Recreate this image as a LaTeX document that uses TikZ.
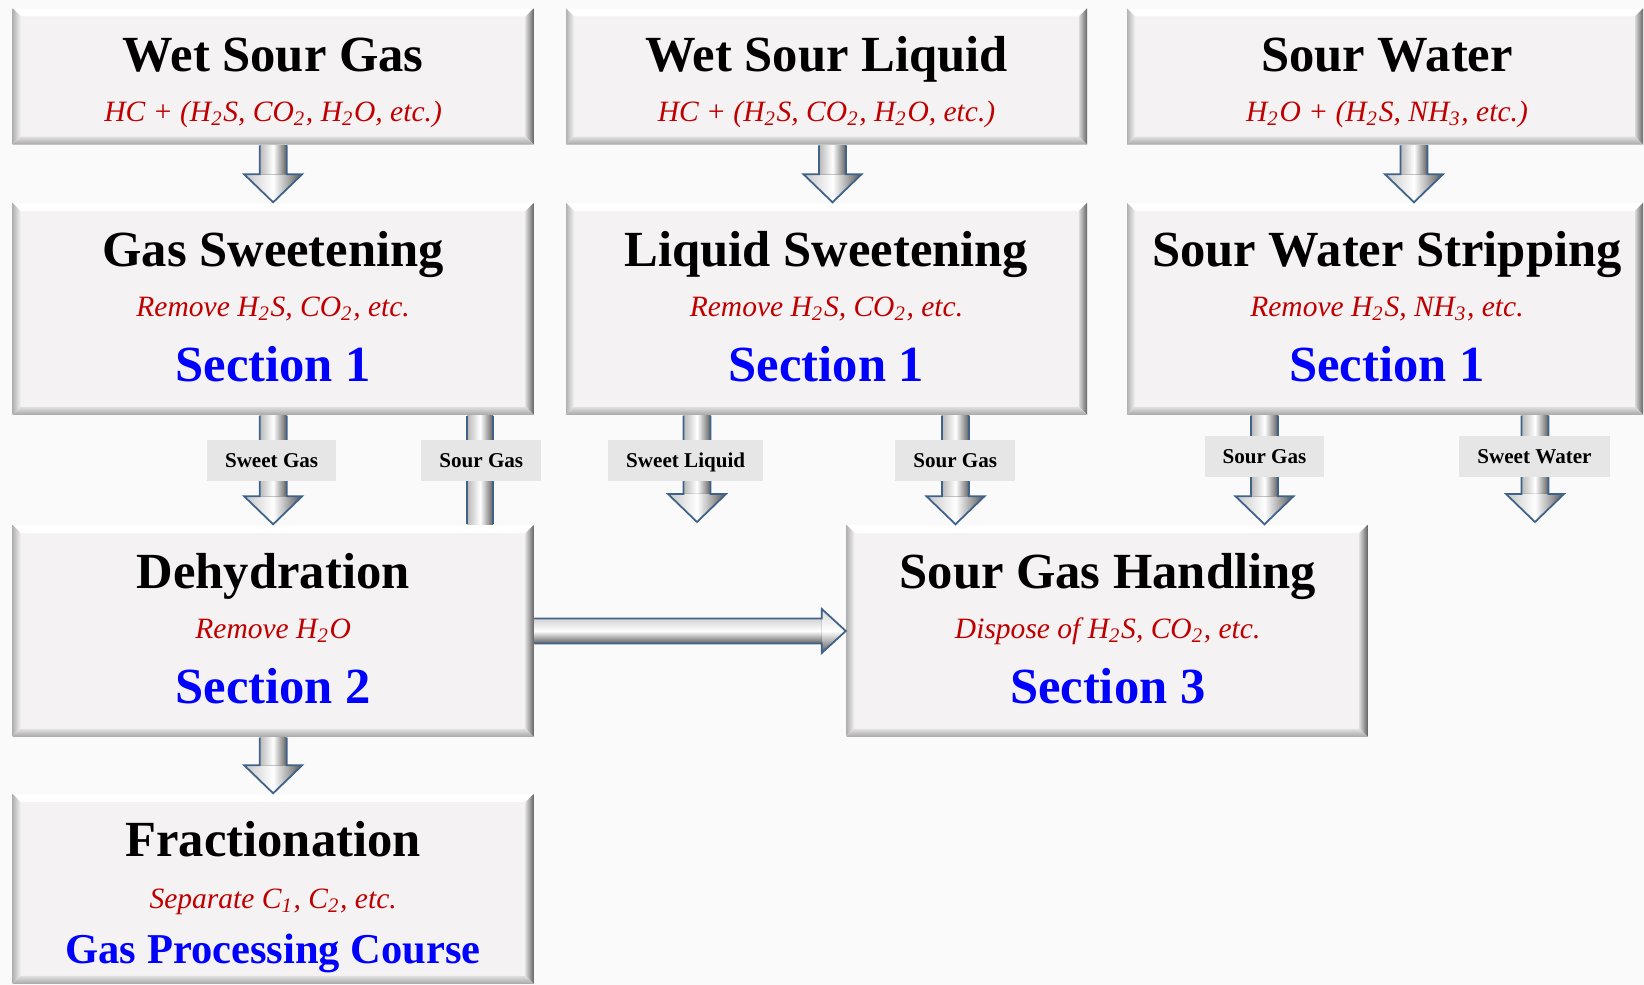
\documentclass[tikz,border=0pt]{standalone}
\usepackage{fontspec}
\setmainfont{Liberation Serif}
\usepackage{tikz}
\usetikzlibrary{calc}
\usetikzlibrary{positioning}

\definecolor{boxgray}{RGB}{244,242,243}
\definecolor{bggray}{RGB}{250,250,250}
\definecolor{labelgray}{RGB}{230,230,230}
\definecolor{subred}{RGB}{192,0,0}
\definecolor{secblue}{RGB}{0,0,255}
\definecolor{arrowblue}{RGB}{62,98,138}

\newcommand{\bv}{0.08}
\newcommand{\hs}{0.135}
\newcommand{\hh}{0.29}
\newcommand{\hl}{0.28}

\tikzset{
  stagebox/.style={minimum width=5.21cm, inner sep=0pt, fill=boxgray, path picture={
      \fill[top color=white, bottom color=boxgray] (path picture bounding box.north west) -- (path picture bounding box.north east) -- ++(-\bv,-\bv) -- ($(path picture bounding box.north west)+(\bv,-\bv)$) -- cycle;
      \fill[left color=gray!60, right color=gray!10] (path picture bounding box.north west) -- ++(\bv,-\bv) -- ($(path picture bounding box.south west)+(\bv,\bv)$) -- (path picture bounding box.south west) -- cycle;
      \fill[left color=gray!30, right color=gray!80!black] (path picture bounding box.north east) -- ++(-\bv,-\bv) -- ($(path picture bounding box.south east)+(-\bv,\bv)$) -- (path picture bounding box.south east) -- cycle;
      \fill[top color=gray!25, bottom color=gray!70] (path picture bounding box.south west) -- ++(\bv,\bv) -- ($(path picture bounding box.south east)+(-\bv,\bv)$) -- (path picture bounding box.south east) -- cycle;
  }},
  titletext/.style={font=\bfseries\fontsize{14.4}{17}\selectfont, inner sep=0pt, text height=0.335cm, text depth=0pt},
  subtext/.style={font=\itshape\fontsize{8.4}{10}\selectfont, text=subred, inner sep=0pt, text height=0.196cm, text depth=0pt},
  sectext/.style={titletext, text=secblue},
  coursetext/.style={font=\bfseries\fontsize{12.1}{14}\selectfont, text=secblue, inner sep=0pt, text height=0.281cm, text depth=0pt},
  flowlabel/.style={fill=labelgray, font=\bfseries\fontsize{6}{7}\selectfont, inner xsep=0.18cm, inner ysep=0pt, minimum height=0.41cm, text height=0.14cm, text depth=0pt},
  shaftshade/.style={left color=gray!55, right color=gray!75!black, middle color=white},
  headshade/.style={left color=gray!45, right color=gray!65!black, middle color=white},
  hshaftshade/.style={top color=gray!35, bottom color=gray!75!black, middle color=white},
  hheadshade/.style={top color=gray!30, bottom color=gray!65!black, middle color=white},
  arrowline/.style={draw=arrowblue, line width=0.5pt, line join=miter},
}

% fat arrow: from node #1 (south, shifted by #2) down to #3
\newcommand{\fatdown}[3]{%
  \path let \p1=($(#1.south)+(#2,0)$), \p2=(#3) in (\x1,\y1) coordinate (fa-top) (\x1,\y2) coordinate (fa-tip);
  \fill[shaftshade] ($(fa-top)+(-\hs,0)$) rectangle ($(fa-tip)+(\hs,\hl)$);
  \fill[headshade] ($(fa-tip)+(-\hh,\hl)$) -- (fa-tip) -- ($(fa-tip)+(\hh,\hl)$) -- cycle;
  \draw[arrowline] ($(fa-top)+(-\hs,0)$) -- ($(fa-tip)+(-\hs,\hl)$) -- ($(fa-tip)+(-\hh,\hl)$) -- (fa-tip) -- ($(fa-tip)+(\hh,\hl)$) -- ($(fa-tip)+(\hs,\hl)$) -- ($(fa-top)+(\hs,0)$);
}

\begin{document}
\begin{tikzpicture}
 \useasboundingbox (0,0) rectangle (16.44,-9.85);
 \fill[bggray] (0,0) rectangle (16.44,-9.85);

 %row1
 \node[stagebox, minimum height=1.363cm] (wsg) at (2.7315,-0.7655) {};
 \node[stagebox, minimum height=1.363cm] (wsl) at (8.265,-0.7655) {};
 \node[stagebox, minimum height=1.363cm, minimum width=5.16cm] (sw) at (13.85,-0.7655) {};

 %row2
 \node[stagebox, minimum height=2.12cm] (gsw) at (2.7315,-3.09) {};
 \node[stagebox, minimum height=2.12cm] (lsw) at (8.265,-3.09) {};
 \node[stagebox, minimum height=2.12cm, minimum width=5.16cm] (sws) at (13.85,-3.09) {};

 %row3
 \node[stagebox, minimum height=2.12cm] (dhy) at (2.7315,-6.31) {};
 \node[stagebox, minimum height=2.12cm] (sgh) at (11.07,-6.31) {};

 %row4
 \node[stagebox, minimum height=1.90cm] (frc) at (2.7315,-8.89) {};

 %texts
 \node[titletext] (wsg-t) at (2.7315,-0.545) {Wet Sour Gas};
 \node[subtext] (wsg-s) at (2.7315,-1.122) {HC + (H\textsubscript{2}S, CO\textsubscript{2}, H\textsubscript{2}O, etc.)};
 \node[titletext] (wsl-t) at (8.265,-0.545) {Wet Sour Liquid};
 \node[subtext] (wsl-s) at (8.265,-1.122) {HC + (H\textsubscript{2}S, CO\textsubscript{2}, H\textsubscript{2}O, etc.)};
 \node[titletext] (sw-t) at (13.87,-0.545) {Sour Water};
 \node[subtext] (sw-s) at (13.87,-1.122) {H\textsubscript{2}O + (H\textsubscript{2}S, NH\textsubscript{3}, etc.)};

 \node[titletext] (gsw-t) at (2.7315,-2.495) {Gas Sweetening};
 \node[subtext] (gsw-s) at (2.7315,-3.072) {Remove H\textsubscript{2}S, CO\textsubscript{2}, etc.};
 \node[sectext] (gsw-n) at (2.7315,-3.649) {Section 1};
 \node[titletext] (lsw-t) at (8.265,-2.495) {Liquid Sweetening};
 \node[subtext] (lsw-s) at (8.265,-3.072) {Remove H\textsubscript{2}S, CO\textsubscript{2}, etc.};
 \node[sectext] (lsw-n) at (8.265,-3.649) {Section 1};
 \node[titletext] (sws-t) at (13.87,-2.495) {Sour Water Stripping};
 \node[subtext] (sws-s) at (13.87,-3.072) {Remove H\textsubscript{2}S, NH\textsubscript{3}, etc.};
 \node[sectext] (sws-n) at (13.87,-3.649) {Section 1};

 \node[titletext] (dhy-t) at (2.7315,-5.714) {Dehydration};
 \node[subtext] (dhy-s) at (2.7315,-6.291) {Remove H\textsubscript{2}O};
 \node[sectext] (dhy-n) at (2.7315,-6.868) {Section 2};
 \node[titletext] (sgh-t) at (11.077,-5.714) {Sour Gas Handling};
 \node[subtext] (sgh-s) at (11.077,-6.291) {Dispose of H\textsubscript{2}S, CO\textsubscript{2}, etc.};
 \node[sectext] (sgh-n) at (11.077,-6.868) {Section 3};

 \node[titletext] (frc-t) at (2.7315,-8.398) {Fractionation};
 \node[subtext] (frc-s) at (2.7315,-8.986) {Separate C\textsubscript{1}, C\textsubscript{2}, etc.};
 \node[coursetext] (frc-n) at (2.7315,-9.499) {Gas Processing Course};

 %free ends
 \coordinate (sl-end) at (6.97,-5.22);
 \coordinate (swt-end) at (15.35,-5.22);

 %arrows
 \fatdown{wsg}{0}{gsw.north}
 \fatdown{wsl}{0.06}{lsw.north}
 \fatdown{sw}{0.29}{sws.north}
 \fatdown{gsw}{0}{dhy.north}
 \fatdown{lsw}{-1.295}{sl-end}
 \fatdown{lsw}{1.29}{sgh.north}
 \fatdown{sws}{-1.205}{sgh.north}
 \fatdown{sws}{1.50}{swt-end}
 \fatdown{dhy}{0}{frc.north}

 % sour gas pipe
 \fill[shaftshade] ($(gsw.south)+(1.94,0)$) rectangle ($(dhy.north)+(2.20,0)$);
 \draw[arrowline] ($(gsw.south)+(1.94,0)$) -- ($(dhy.north)+(1.94,0)$);
 \draw[arrowline] ($(gsw.south)+(2.20,0)$) -- ($(dhy.north)+(2.20,0)$);

 % to sour gas handling
 \fill[hshaftshade] ($(dhy.east)+(0,0.125)$) rectangle ($(sgh.west)+(-0.24,-0.125)$);
 \fill[hheadshade] ($(sgh.west)+(-0.24,0.22)$) -- (sgh.west) -- ($(sgh.west)+(-0.24,-0.22)$) -- cycle;
 \draw[arrowline] ($(dhy.east)+(0,0.125)$) -- ($(sgh.west)+(-0.24,0.125)$) -- ($(sgh.west)+(-0.24,0.22)$) -- (sgh.west) -- ($(sgh.west)+(-0.24,-0.22)$) -- ($(sgh.west)+(-0.24,-0.125)$) -- ($(dhy.east)+(0,-0.125)$);

 %labels
 \node[flowlabel] (lb1) at (2.716,-4.608) {Sweet Gas};
 \node[flowlabel] (lb2) at (4.813,-4.608) {Sour Gas};
 \node[flowlabel] (lb3) at (6.857,-4.608) {Sweet Liquid};
 \node[flowlabel] (lb4) at (9.552,-4.608) {Sour Gas};
 \node[flowlabel] (lb5) at (12.645,-4.566) {Sour Gas};
 \node[flowlabel] (lb6) at (15.345,-4.566) {Sweet Water};

\end{tikzpicture}
\end{document}
